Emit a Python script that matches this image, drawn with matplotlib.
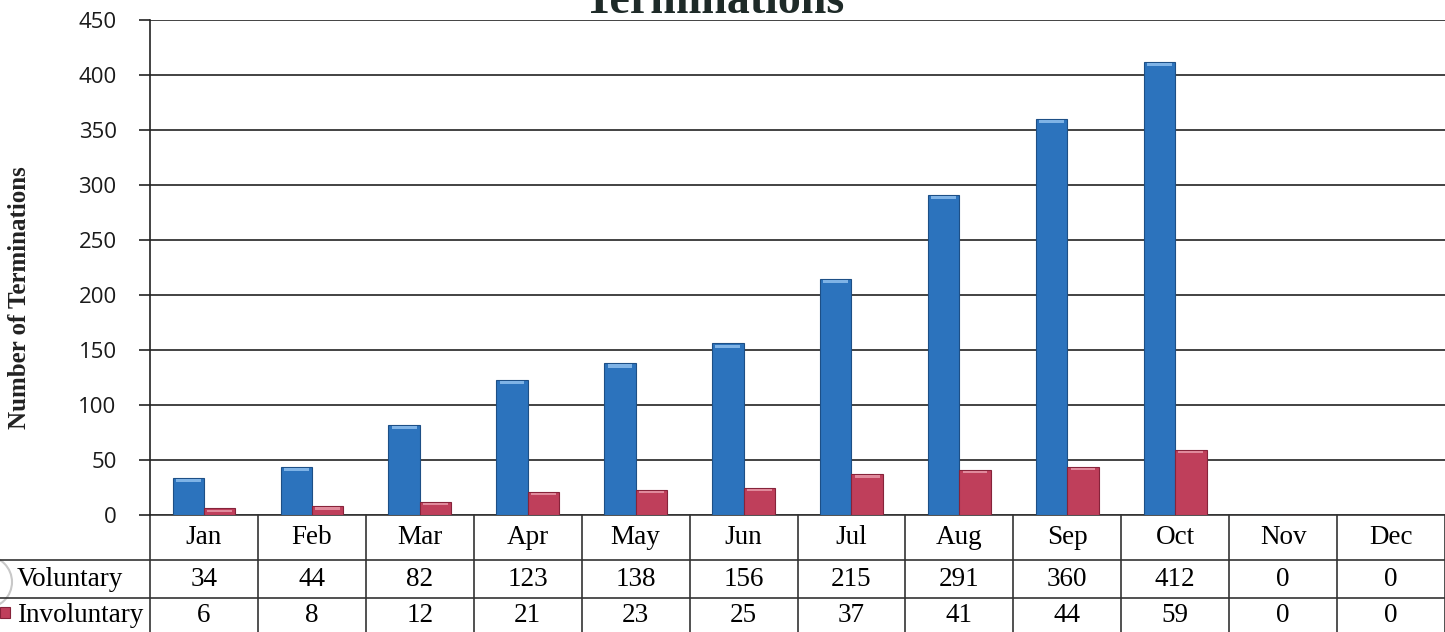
import numpy as np
import matplotlib
matplotlib.use('Agg')
import matplotlib.pyplot as plt
from matplotlib.patches import Rectangle, Ellipse

months = ['Jan', 'Feb', 'Mar', 'Apr', 'May', 'Jun', 'Jul', 'Aug', 'Sep', 'Oct', 'Nov', 'Dec']
voluntary = [34, 44, 82, 123, 138, 156, 215, 291, 360, 412, 0, 0]
involuntary = [6, 8, 12, 21, 23, 25, 37, 41, 44, 59, 0, 0]
row_labels = ['Voluntary', 'Involuntary']
yticks = [0, 50, 100, 150, 200, 250, 300, 350, 400, 450]

blue = '#2c73bd'
blue_edge = '#1d4f86'
pink = '#bf3f5b'
pink_edge = '#86233a'
serif = 'Liberation Serif'

W, H = 1445, 632
fig = plt.figure(figsize=(W / 100, H / 100), dpi=100)
ax = fig.add_axes([150 / W, 117 / H, 1295 / W, 495 / H])

x = np.arange(len(months))
bw = 0.29
ax.bar(x - bw / 2, voluntary, bw, color=blue, edgecolor=blue_edge, linewidth=0.8, zorder=3)
ax.bar(x + bw / 2, involuntary, bw, color=pink, edgecolor=pink_edge, linewidth=0.8, zorder=3)
# light highlight at bar tops
for xi, v in zip(x, voluntary):
    if v > 0:
        ax.add_patch(Rectangle((xi - bw + 0.03, v - 4), bw - 0.06, 3, color='#7fb3e6', zorder=4, lw=0))
for xi, v in zip(x, involuntary):
    if v > 0:
        ax.add_patch(Rectangle((xi + 0.03, v - 3), bw - 0.06, 2, color='#e08a9c', zorder=4, lw=0))

ax.set_xlim(-0.5, 11.5)
ax.set_ylim(0, 450)
ax.set_yticks(yticks)
ax.set_yticklabels([str(t) for t in yticks], fontsize=16, family='Open Sans', color='#1a1a1a')
ax.set_xticks([])
ax.grid(axis='y', color='#222222', linewidth=1.2, zorder=0)
ax.tick_params(axis='y', length=8, width=1.2, color='#222222', pad=16)
for s in ['top', 'right', 'bottom']:
    ax.spines[s].set_visible(False)
ax.spines['left'].set_color('#222222')
ax.spines['left'].set_linewidth(1.2)

# data table below the axes (drawn in axes-x / figure-y coords)
trans = matplotlib.transforms.blended_transform_factory(ax.transData, fig.transFigure)

def fy(py):
    return 1 - py / H

lc = '#333333'
ax.plot([-0.5, 11.5], [fy(515)] * 2, transform=trans, color=lc, lw=1.2, clip_on=False)
for py in [560, 598]:
    fig.add_artist(plt.Line2D([0, 1], [fy(py)] * 2, color=lc, lw=1.2))
for i in range(len(months) + 1):
    ax.plot([i - 0.5, i - 0.5], [fy(515), fy(640)], transform=trans, color=lc, lw=1.2, clip_on=False)

fs = 19.5
for i, m in enumerate(months):
    ax.text(i, fy(538), m, transform=trans, ha='center', va='center', fontsize=fs, family=serif)
    ax.text(i, fy(579), str(voluntary[i]), transform=trans, ha='center', va='center', fontsize=fs, family=serif)
    ax.text(i, fy(616), str(involuntary[i]), transform=trans, ha='center', va='center', fontsize=fs, family=serif)

# faint rounded shape at the left edge of the Voluntary row
fig.add_artist(Ellipse((-14 / W, fy(582)), 52 / W, 52 / H, transform=fig.transFigure,
                       facecolor='white', edgecolor='#c8c8c8', lw=1.5))
fig.text(17 / W, fy(579), row_labels[0], ha='left', va='center', fontsize=fs, family=serif)
fig.text(17 / W, fy(616), row_labels[1], ha='left', va='center', fontsize=fs, family=serif)
fig.add_artist(Rectangle((0 / W, fy(618)), 10 / W, 11 / H, transform=fig.transFigure,
                         facecolor=pink, edgecolor=pink_edge, lw=0.8))

fig.text(714 / W, fy(13), 'Terminations', ha='center', va='baseline', fontsize=33,
         fontweight='bold', family=serif, color='#1e2a28')
fig.text(20 / W, fy(298), 'Number of Terminations', rotation=90, ha='center', va='center',
         fontsize=18, fontweight='bold', family=serif, color='#222222')

fig.savefig('out.png', dpi=100)
